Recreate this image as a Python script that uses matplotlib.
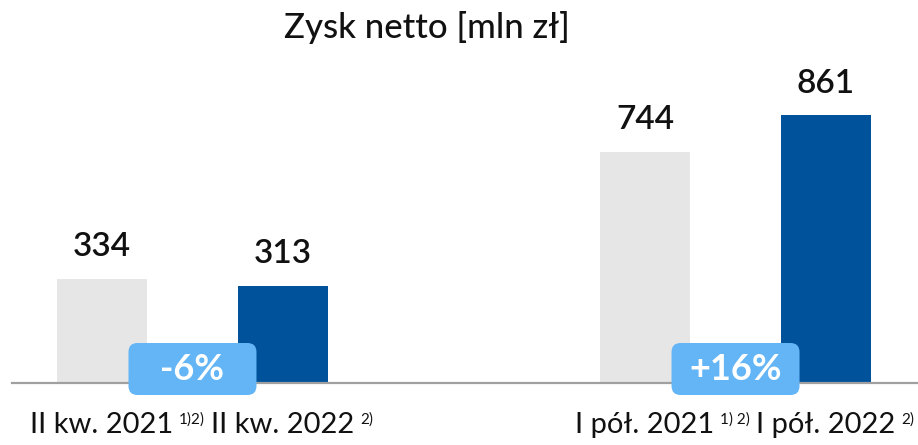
import matplotlib.pyplot as plt
from matplotlib.patches import FancyBboxPatch
from matplotlib.transforms import ScaledTranslation

plt.rcParams["font.family"] = ["Lato", "DejaVu Sans"]

categories = ["II kw. 2021", "II kw. 2022", "I pół. 2021", "I pół. 2022"]
footnotes = ["1)2)", "2)", "1) 2)", "2)"]
values = [334, 313, 744, 861]
positions = [0, 1, 3, 4]
bar_colors = ["#e6e6e6", "#00529b", "#e6e6e6", "#00529b"]
changes = ["-6%", "+16%"]
change_pos = [0.5, 3.5]

fig = plt.figure(figsize=(9.18, 4.45), dpi=100)
ax = fig.add_axes([12 / 918, (445 - 383) / 445, 906 / 918, 343 / 445])
ax.set_xlim(-0.497, 4.508)
ax.set_ylim(0, 343 / 0.311)

ax.bar(positions, values, width=0.5, color=bar_colors, zorder=2)
for x, v in zip(positions, values):
    ax.annotate(f"{v}", (x, v), xytext=(0, 12), textcoords="offset points",
                ha="center", va="bottom", fontsize=24, fontweight="semibold",
                color="#111111")

for spine in ["top", "right", "left"]:
    ax.spines[spine].set_visible(False)
ax.spines["bottom"].set_color("#a0a0a0")
ax.spines["bottom"].set_linewidth(1.6)
ax.spines["bottom"].set_zorder(3)
ax.set_yticks([])
ax.set_xticks([])

# category labels with footnote markers
for x, cat, fn in zip(positions, categories, footnotes):
    t = ax.annotate(cat, (x, 0), xytext=(0, -21), textcoords="offset points",
                    ha="center", va="top", fontsize=21, color="#111111",
                    annotation_clip=False)
    ax.annotate(fn, xy=(1, 1), xycoords=t, xytext=(4, 0),
                textcoords="offset points", ha="left", va="top",
                fontsize=11, color="#111111")

# change badges
w, h, r = 1.28, 0.52, 0.09
for x, label in zip(change_pos, changes):
    tr = fig.dpi_scale_trans + ScaledTranslation(x, 45, ax.transData)
    box = FancyBboxPatch((-w / 2 + r, -h / 2 + r), w - 2 * r, h - 2 * r,
                         boxstyle=f"round,pad={r}", transform=tr,
                         facecolor="#64b5f6", edgecolor="none",
                         zorder=4, clip_on=False)
    ax.add_patch(box)
    ax.text(x, 45, label, ha="center", va="center", fontsize=26,
            fontweight="bold", color="white", zorder=5)

fig.text(427 / 918, 1 - 27 / 445, "Zysk netto [mln zł]", ha="center",
         va="center", fontsize=25, fontweight="medium", color="#111111")

fig.savefig("out.png", dpi=100)
